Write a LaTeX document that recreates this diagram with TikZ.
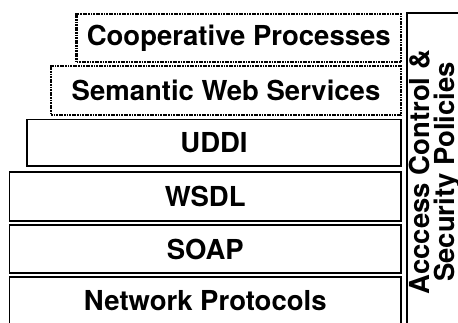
\documentclass[tikz,border=0pt]{standalone}
\usepackage{fontspec}
\setmainfont{TeX Gyre Heros}
\begin{document}
\begin{tikzpicture}[x=1pt,y=-1pt,
  layer/.style={draw=black, line width=1.8pt, inner sep=0pt, anchor=center,
    font=\bfseries\fontsize{27.5}{24.5}\selectfont},
  solidlayer/.style={layer},
  dottedlayer/.style={layer, line width=2.4pt, dash pattern=on 1.8pt off 0.8pt}]
\useasboundingbox[clip] (0,0) rectangle (458,322);
\node[dottedlayer, minimum width=324.5pt, minimum height=48pt] (coop) at (238.75,38) {Cooperative Processes};
\node[dottedlayer, minimum width=350pt, minimum height=49pt] (sem) at (226,90.5) {Semantic Web Services};
\node[solidlayer, minimum width=374pt, minimum height=46.5pt] (uddi) at (214,142.75) {UDDI};
\node[solidlayer, minimum width=391.5pt, minimum height=49pt] (wsdl) at (205.25,196.5) {WSDL};
\node[solidlayer, minimum width=391.5pt, minimum height=48pt] (soap) at (205.25,249) {SOAP};
\node[solidlayer, minimum width=391.5pt, minimum height=48pt] (net) at (205.25,301) {Network Protocols};
\node[solidlayer, minimum width=60pt, minimum height=318pt] (sec) at (437,172) {};
\node[font=\bfseries\fontsize{27.5}{24.5}\selectfont, rotate=90, align=center, inner sep=0pt] (sectext) at (435,172) {Acccess Control \&\\Security Policies};
\end{tikzpicture}
\end{document}
